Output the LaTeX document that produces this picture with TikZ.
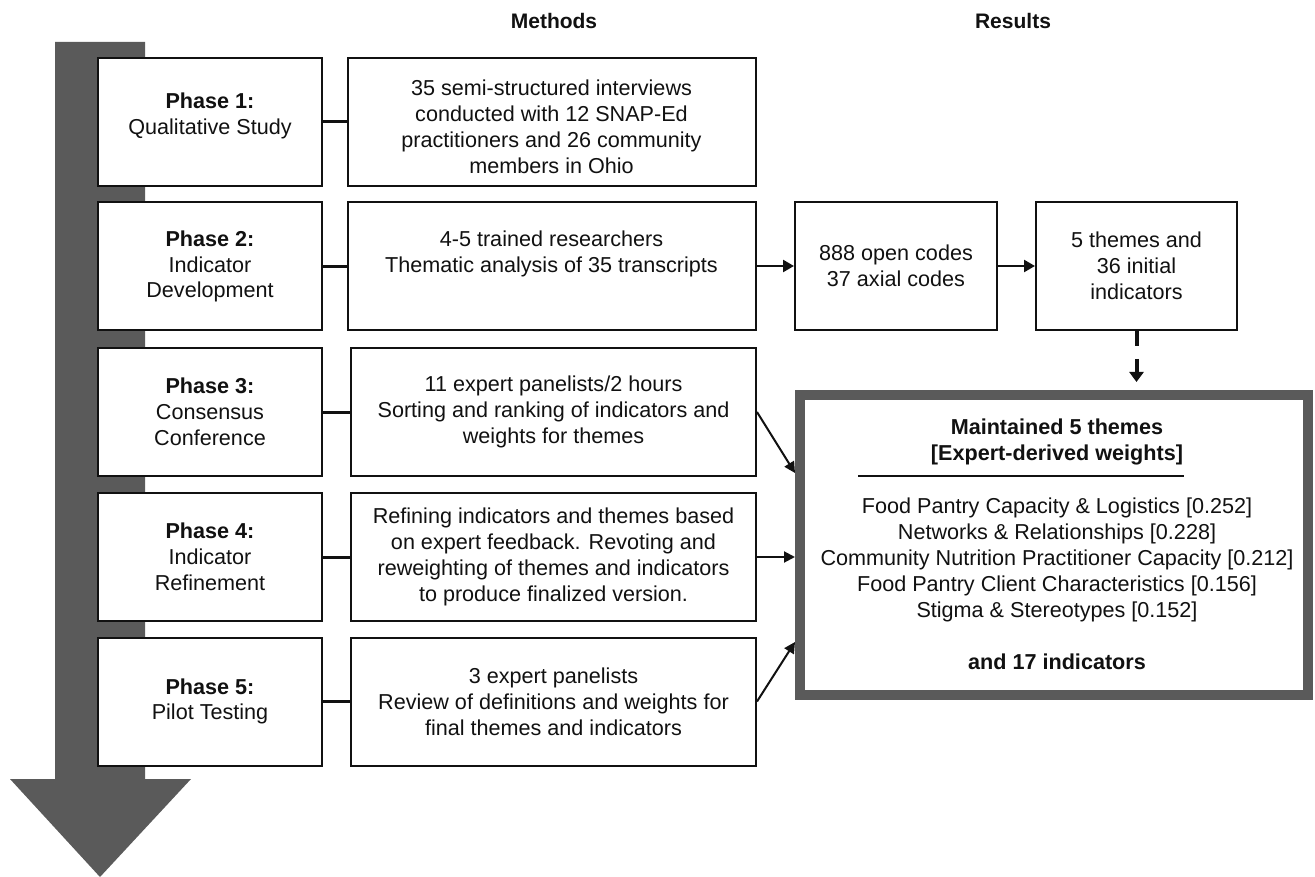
\documentclass[tikz,border=0pt]{standalone}
\usepackage{fontspec}
\setmainfont{Liberation Sans}
\usetikzlibrary{arrows.meta,calc}
\definecolor{arrowgray}{HTML}{5A5A5A}
\definecolor{ink}{HTML}{111111}
\begin{document}
\begin{tikzpicture}[x=1pt,y=-1pt,
  every node/.style={font=\fontsize{21.6}{25.8}\selectfont, text=ink, align=center, inner sep=0pt},
  box/.style={draw=ink, line width=2pt, fill=white, minimum height=128pt},
  phasebox/.style={box, minimum width=224pt},
  methbox/.style={box, minimum width=405pt},
  resbox/.style={box, minimum width=201pt},
  bigbox/.style={draw=arrowgray, line width=10pt, fill=white, minimum width=508pt, minimum height=300pt},
  link/.style={draw=ink, line width=3pt},
  flow/.style={draw=ink, line width=2.5pt, -{Triangle[length=11pt,width=12pt]}},
  diag/.style={draw=ink, line width=2pt, -{Triangle[length=11pt,width=11pt]}},
  dasharrow/.style={draw=ink, line width=4pt, dash pattern=on 15pt off 13pt, -{Triangle[length=10pt,width=14pt]}},
  header/.style={font=\fontsize{21}{25}\selectfont\bfseries}
]
\useasboundingbox (0,0) rectangle (1315,877);

% big time arrow
\fill[arrowgray] (55,42) -- (145,42) -- (145,779) -- (191,779) -- (100,877) -- (10,779) -- (55,779) -- cycle;

% headers
\node[header] (hm) at (554,21) {Methods};
\node[header] (hr) at (1013,21) {Results};

% phase boxes
\node[phasebox, text depth=17pt] (p1) at (210,122) {\textbf{Phase 1:}\\Qualitative Study};
\node[phasebox] (p2) at (210,266.5) {\textbf{Phase 2:}\\Indicator\\Development};
\node[phasebox] (p3) at (210,412) {\textbf{Phase 3:}\\Consensus\\Conference};
\node[phasebox] (p4) at (210,557) {\textbf{Phase 4:}\\Indicator\\Refinement};
\node[phasebox] (p5) at (210,701.5) {\textbf{Phase 5:}\\Pilot Testing};

% method boxes
\node[methbox, minimum width=408pt, text height=103pt] (m1) at (551.5,122) {35 semi-structured interviews\\conducted with 12 SNAP-Ed\\practitioners and 26 community\\members in Ohio};
\node[methbox, minimum width=408pt, text depth=30pt] (m2) at (551.5,266.5) {4-5 trained researchers\\Thematic analysis of 35 transcripts};
\node[methbox] (m3) at (553.5,412) {11 expert panelists/2 hours\\Sorting and ranking of indicators and\\weights for themes};
\node[methbox] (m4) at (553.5,557) {Refining indicators and themes based\\on expert feedback. Revoting and\\reweighting of themes and indicators\\to produce finalized version.};
\node[methbox] (m5) at (553.5,701.5) {3 expert panelists\\Review of definitions and weights for\\final themes and indicators};

% phase-method links
\foreach \i in {1,...,5} {\draw[link] (p\i.east) -- (m\i.west);}

% result boxes
\node[resbox, minimum width=202pt] (r1) at (896,266) {888 open codes\\37 axial codes};
\node[resbox] (r2) at (1136.5,266) {5 themes and\\36 initial\\indicators};

% final result box
\node[bigbox] (fin) at (1054,545) {};
\node[font=\fontsize{21.6}{25.8}\selectfont\bfseries] (ftitle) at (1057,442) {Maintained 5 themes\\{[Expert-derived weights]}};
\coordinate (rulel) at (858,476);
\coordinate (ruler) at (1184,476);
\draw[ink, line width=2pt] (rulel) -- (ruler);
\node (flist) at (1057,560) {Food Pantry Capacity \& Logistics [0.252]\\Networks \& Relationships [0.228]\\Community Nutrition Practitioner Capacity [0.212]\\Food Pantry Client Characteristics [0.156]\\Stigma \& Stereotypes [0.152]};
\node[font=\fontsize{21.6}{25.8}\selectfont\bfseries] (fend) at (1057,662) {and 17 indicators};

% connectors
\draw[flow] (m2.east |- r1.west) -- (r1.west);
\draw[flow] (r1.east) -- (r2.west);
\draw[dasharrow, shorten >=8pt] (r2.south) -- (r2.south |- fin.north);
\draw[diag] (m3.east) -- ([yshift=72pt]fin.west);
\draw[diag] (m4.east) -- (m4.east -| fin.west);
\draw[diag] (m5.east) -- ([yshift=-97pt]fin.west);
\end{tikzpicture}
\end{document}
